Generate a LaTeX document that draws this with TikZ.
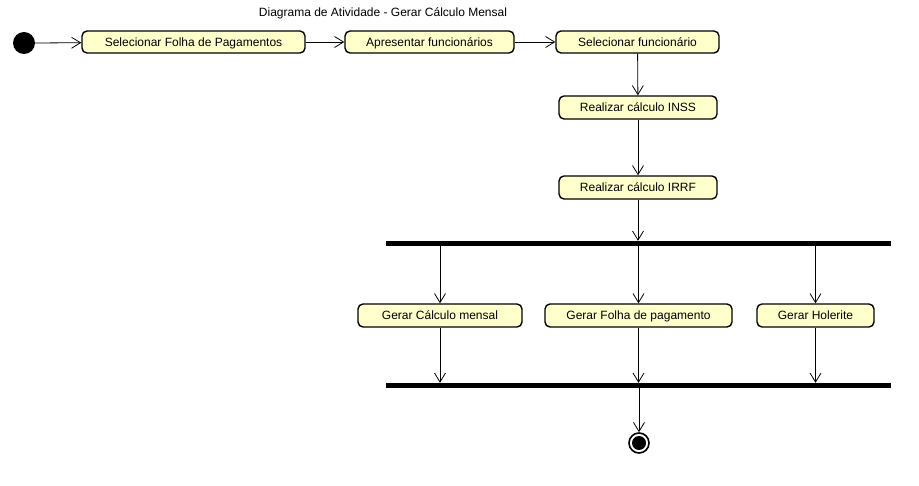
\documentclass[tikz,border=0pt]{standalone}
\usepackage{fontspec}
\setmainfont{Liberation Sans}
\usetikzlibrary{arrows.meta,calc}
\definecolor{actfill}{RGB}{255,255,204}
\tikzset{
  act/.style={draw=black, line width=1.4pt, fill=actfill, rounded corners=5pt,
    minimum height=22pt, inner sep=0pt, text height=8.6pt, text depth=0pt,
    font=\fontsize{12}{14}\selectfont},
  bar/.style={fill=black, draw=none, minimum width=505pt, minimum height=5pt, inner sep=0pt},
  arr/.style={line width=0.8pt, -{Straight Barb[length=9pt,width=11pt]}}
}
\begin{document}
\begin{tikzpicture}[x=1pt,y=-1pt]
\useasboundingbox[fill=white] (0,0) rectangle (919,486);
\node[font=\fontsize{12}{14}\selectfont] (title) at (383,13) {Diagrama de Atividade - Gerar Cálculo Mensal};
\node[circle, fill=black, minimum size=22pt, inner sep=0pt, outer sep=0pt] (start) at (24,43) {};
\node[act, minimum width=223pt] (b1) at (193.5,42) {Selecionar Folha de Pagamentos};
\node[act, minimum width=169pt] (b2) at (429.5,42) {Apresentar funcionários};
\node[act, minimum width=163pt] (b3) at (637.5,42) {Selecionar funcionário};
\node[act, minimum width=158pt, minimum height=23pt] (b4) at (638,107.5) {Realizar cálculo INSS};
\node[act, minimum width=158pt, minimum height=23pt] (b5) at (638,187.5) {Realizar cálculo IRRF};
\node[bar] (fork) at (638.5,243.5) {};
\node[act, minimum width=164pt, minimum height=23pt] (b6) at (440,315.5) {Gerar Cálculo mensal};
\node[act, minimum width=187pt, minimum height=23pt] (b7) at (638.5,315.5) {Gerar Folha de pagamento};
\node[act, minimum width=117pt, minimum height=23pt] (b8) at (815.5,315.5) {Gerar Holerite};
\node[bar] (join) at (638.5,385.5) {};
\node[circle, draw=black, line width=1.6pt, fill=white, minimum size=20pt, inner sep=0pt] (endn) at (639,443) {};
\fill[black] (endn.center) circle (7pt);

\draw[arr] (start.east) -- (b1);
\draw[arr] (b1) -- (b2);
\draw[arr] (b2) -- (b3);
\draw[arr] (b3) -- (b4);
\draw[arr] (b4) -- (b5);
\draw[arr] (b5.south) -- (b5.south |- fork.north);
\draw[arr] (fork.south -| b6) -- (b6.north);
\draw[arr] (fork.south -| b7) -- (b7.north);
\draw[arr] (fork.south -| b8) -- (b8.north);
\draw[arr] (b6.south) -- (b6.south |- join.north);
\draw[arr] (b7.south) -- (b7.south |- join.north);
\draw[arr] (b8.south) -- (b8.south |- join.north);
\draw[arr] (join.south -| endn) -- (endn.north);
\end{tikzpicture}
\end{document}
